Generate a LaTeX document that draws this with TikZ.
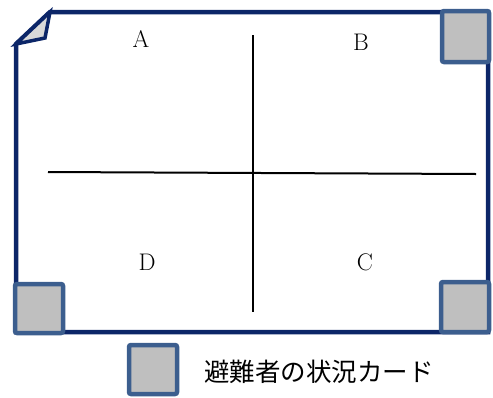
\documentclass[tikz,border=0pt]{standalone}
\usepackage{fontspec}
\newfontfamily\cjk{Noto Sans CJK JP}
\definecolor{navy}{RGB}{12,38,104}
\definecolor{cardblue}{RGB}{60,94,142}
\definecolor{cardgray}{RGB}{191,191,191}
\definecolor{foldgray}{RGB}{217,217,217}
\tikzset{
  card/.style={draw=cardblue, line width=4.5pt, fill=cardgray, rounded corners=2pt},
  quad/.style={font=\fontsize{24}{24}\selectfont, inner sep=0pt},
  axis/.style={draw=black, line width=2pt},
}
\begin{document}
\begin{tikzpicture}[x=1pt,y=-1pt]
\useasboundingbox (0,0) rectangle (493,397);
% frame
\draw[navy, line width=4.5pt, line join=miter] (50,12) -- (488,12) -- (488,332) -- (16,332) -- (16,44) -- cycle;
\draw[navy, line width=3.5pt, fill=foldgray, line join=miter] (50,12) -- (16,44) -- (45,38) -- cycle;
% cross
\coordinate (hl) at (48,172);
\coordinate (hr) at (476,174);
\coordinate (vt) at (253,35);
\coordinate (vb) at (253,312);
\draw[axis] (hl) -- (hr);
\draw[axis] (vt) -- (vb);
% labels
\node[quad] (A) at (141,39) {A};
\node[quad] (B) at (361,42) {B};
\node[quad] (D) at (147,262) {D};
\node[quad] (C) at (365,262) {C};
% cards
\draw[card] (442,11) rectangle (489,62);
\draw[card] (15,284) rectangle (63,333);
\draw[card] (441,282) rectangle (489,332);
\draw[card] (129,345) rectangle (177,394);
\node[anchor=west, inner sep=0pt, font=\cjk\fontsize{25.5}{25.5}\selectfont] (legend) at (204,372) {避難者の状況カード};
\end{tikzpicture}
\end{document}
